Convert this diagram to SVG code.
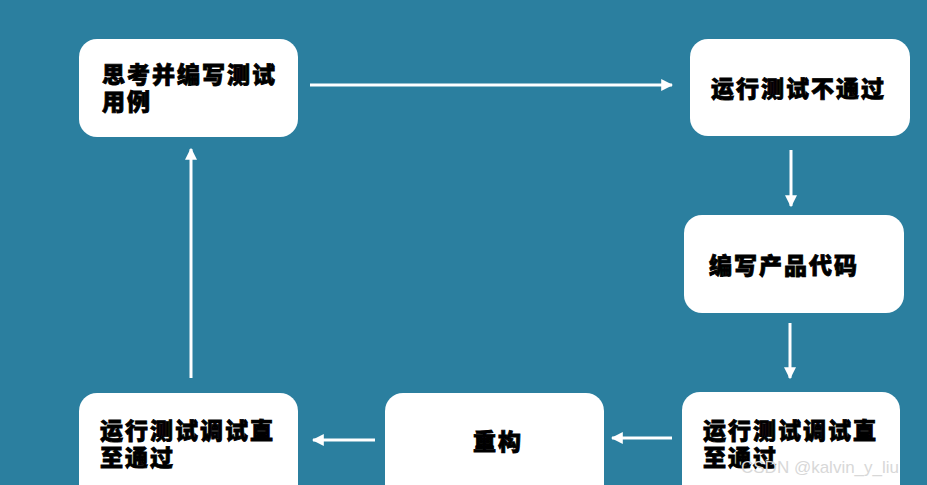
<svg xmlns="http://www.w3.org/2000/svg" width="927" height="485" viewBox="0 0 927 485">
<style>
.node rect{fill:#ffffff;}
.node text{font-family:"Liberation Sans","Noto Sans CJK SC",sans-serif;font-weight:900;font-size:23px;fill:#000;stroke:#000;stroke-width:0.8px;letter-spacing:2px;}
.conn line{stroke:#ffffff;stroke-width:3;marker-end:url(#ah);}
.wm{font-family:"Liberation Sans",Arial,sans-serif;font-size:17px;fill:#d8d8d8;}
</style>
<defs>
<marker id="ah" viewBox="0 0 10 10" refX="9" refY="5" markerWidth="4" markerHeight="4" orient="auto" markerUnits="strokeWidth">
<path d="M0,0 L10,5 L0,10 Z" fill="#ffffff"/>
</marker>
</defs>
<rect x="0" y="0" width="927" height="485" fill="#2b7f9f"/>
<g class="conn">
<line x1="310" y1="85" x2="672" y2="85"/>
<line x1="791" y1="150" x2="791" y2="206"/>
<line x1="790" y1="323" x2="790" y2="378"/>
<line x1="672" y1="438" x2="612" y2="438"/>
<line x1="375" y1="440" x2="313" y2="440"/>
<line x1="191" y1="378" x2="191" y2="149"/>
</g>
<g id="n1" class="node">
<rect x="79" y="39" width="219" height="98" rx="18"/>
<text x="102" y="83">思考并编写测试</text>
<text x="102" y="110">用例</text>
</g>
<g id="n2" class="node">
<rect x="690" y="39" width="220" height="97" rx="18"/>
<text x="711" y="97">运行测试不通过</text>
</g>
<g id="n3" class="node">
<rect x="684" y="215" width="220" height="98" rx="18"/>
<text x="709" y="274">编写产品代码</text>
</g>
<g id="n4" class="node">
<rect x="682" y="392" width="218" height="110" rx="18"/>
<text x="703" y="439">运行测试调试直</text>
<text x="703" y="466">至通过</text>
</g>
<g id="n5" class="node">
<rect x="385" y="393" width="219" height="110" rx="18"/>
<text x="473" y="450">重构</text>
</g>
<g id="n6" class="node">
<rect x="79" y="393" width="219" height="110" rx="18"/>
<text x="100" y="439">运行测试调试直</text>
<text x="100" y="466">至通过</text>
</g>
<text class="wm" x="741" y="473">CSDN @kalvin_y_liu</text>
</svg>
